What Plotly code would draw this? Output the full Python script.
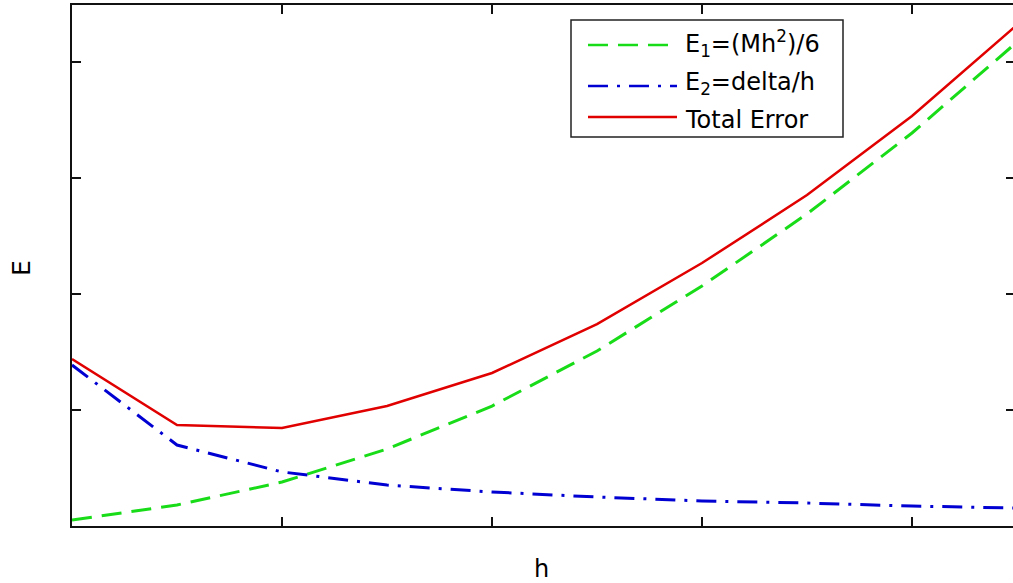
import plotly.graph_objects as go

# Data (h in grid-step units, E in tick units)
h = [1, 2, 3, 4, 5, 6, 7, 8, 9, 10]
E1 = [0.052, 0.181, 0.379, 0.664, 1.034, 1.509, 2.069, 2.690, 3.388, 4.172]
E2 = [1.388, 0.698, 0.466, 0.353, 0.293, 0.250, 0.216, 0.198, 0.172, 0.155]
Etot = [1.440, 0.871, 0.845, 1.034, 1.319, 1.741, 2.267, 2.853, 3.534, 4.319]

xticks = [3, 5, 7, 9]
yticks = [1, 2, 3, 4]

GREEN = "rgb(25,220,25)"
BLUE = "rgb(0,0,210)"
RED = "rgb(225,0,0)"
GREEN_DASH = "20px,10px"
BLUE_DASH = "20px,9px,3px,9px"

W, H = 1013, 583
L, R, T, B = 72, 0, 5, 57
pw, ph = W - L - R, H - T - B

fig = go.Figure()
fig.add_trace(go.Scatter(x=h, y=E1, mode="lines", name="E1",
                         line=dict(color=GREEN, width=3, dash=GREEN_DASH)))
fig.add_trace(go.Scatter(x=h, y=E2, mode="lines", name="E2",
                         line=dict(color=BLUE, width=3, dash=BLUE_DASH)))
fig.add_trace(go.Scatter(x=h, y=Etot, mode="lines", name="Total",
                         line=dict(color=RED, width=2.5)))
# empty trace to activate right-hand tick axis
fig.add_trace(go.Scatter(x=[], y=[], yaxis="y2", showlegend=False, hoverinfo="skip"))

x_per_px = 1.0 / 105.0
y_per_px = 1.0 / 116.0
xr = [1, 1 + pw * x_per_px]
yr = [0, ph * y_per_px]


def px_x(px):
    return (px - L) / pw


def px_y(py):
    return (H - B - py) / ph


FONT = "DejaVu Sans"
shapes = []
# legend box
shapes.append(dict(type="rect", xref="paper", yref="paper",
                   x0=px_x(571), x1=px_x(843), y0=px_y(137), y1=px_y(20),
                   line=dict(color="#222", width=1.5), fillcolor="white", layer="above"))
legend_rows = [
    (45, GREEN, GREEN_DASH, 2.5, "E<sub>1</sub>=(Mh<sup>2</sup>)/6", 43),
    (86, BLUE, BLUE_DASH, 2.5, "E<sub>2</sub>=delta/h", 83),
    (117, RED, "solid", 2.5, "Total Error", 120),
]
annotations = []
for ly, col, dash, lw, txt, ty in legend_rows:
    shapes.append(dict(type="line", xref="paper", yref="paper",
                       x0=px_x(588), x1=px_x(677), y0=px_y(ly), y1=px_y(ly),
                       line=dict(color=col, width=lw, dash=dash), layer="above"))
    annotations.append(dict(xref="paper", yref="paper", x=px_x(683), y=px_y(ty),
                            xanchor="left", yanchor="middle", showarrow=False, text=txt,
                            font=dict(family=FONT, size=24, color="black")))

annotations.append(dict(xref="paper", yref="paper", x=px_x(21), y=px_y(268),
                        xanchor="center", yanchor="middle", showarrow=False, text="E",
                        textangle=-90, font=dict(family=FONT, size=25, color="black")))
annotations.append(dict(xref="paper", yref="paper", x=px_x(541), y=px_y(569),
                        xanchor="center", yanchor="middle", showarrow=False, text="h",
                        font=dict(family=FONT, size=24, color="black")))

fig.update_layout(
    width=W, height=H,
    margin=dict(l=L, r=R, t=T, b=B, pad=0),
    paper_bgcolor="white", plot_bgcolor="white",
    showlegend=False,
    xaxis=dict(range=xr, tickvals=xticks, showticklabels=False, ticks="inside",
               ticklen=9, tickwidth=1.5, tickcolor="#111", showline=True,
               linecolor="#111", linewidth=1.5, mirror="ticks", showgrid=False,
               zeroline=False),
    yaxis=dict(range=yr, tickvals=yticks, showticklabels=False, ticks="inside",
               ticklen=9, tickwidth=1.5, tickcolor="#111", showline=True,
               linecolor="#111", linewidth=1.5, showgrid=False, zeroline=False),
    yaxis2=dict(range=yr, tickvals=yticks, showticklabels=False, ticks="inside",
                ticklen=7, tickwidth=1.5, tickcolor="#111", showline=False,
                overlaying="y", side="right", showgrid=False, zeroline=False),
    shapes=shapes,
    annotations=annotations,
)

fig.write_html("out.html")
